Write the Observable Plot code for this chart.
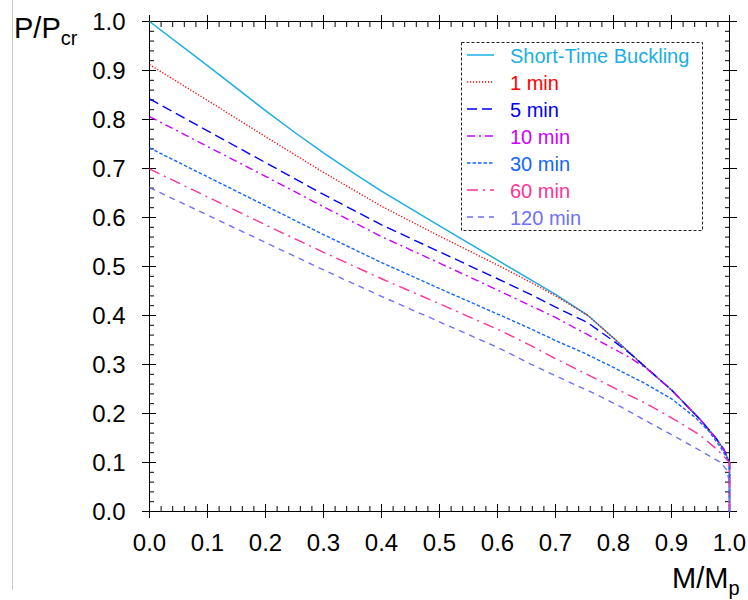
<!DOCTYPE html>
<html>
<head>
<meta charset="utf-8">
<script src="https://cdn.jsdelivr.net/npm/d3@7"></script>
<script src="https://cdn.jsdelivr.net/npm/@observablehq/plot@0.6"></script>
<style>
  html, body { margin: 0; padding: 0; background: #fff; }
  #wrap { position: relative; width: 748px; height: 600px; font-family: "Liberation Sans", Arial, sans-serif; }
  #wrap svg.overlay { position: absolute; left: 0; top: 0; pointer-events: none; }
</style>
</head>
<body>
<div id="wrap"></div>
<script>
// ---------- data ----------
const seriesNames = ["Short-Time Buckling", "1 min", "5 min", "10 min", "30 min", "60 min", "120 min"];
const seriesColors = ["#1aaee6", "#ff0000", "#0000ff", "#cc00ff", "#1166ff", "#ff3399", "#7070ff"];
const seriesDash = [null, "1.2,1.8", "10,5", "8,4,2,4", "3.5,2", "11,5,2,5", "6,5"];

const mShort = [0, 0.1, 0.2, 0.25, 0.3, 0.35, 0.4, 0.5, 0.6, 0.7, 0.756, 0.8, 0.85, 0.9, 0.95, 0.975, 0.99, 1.0, 1.0];
const pShort = [1.0, 0.910, 0.818, 0.774, 0.732, 0.692, 0.654, 0.583, 0.513, 0.443, 0.40, 0.354, 0.300, 0.248, 0.187, 0.152, 0.127, 0.1, 0];

const m1 = [0, 0.1, 0.2, 0.3, 0.4, 0.5, 0.6, 0.657, 0.7, 0.756, 0.8, 0.85, 0.9, 0.95, 0.975, 0.99, 1.0, 1.0];
const p1 = [0.912, 0.839, 0.765, 0.692, 0.623, 0.562, 0.503, 0.468, 0.440, 0.40, 0.354, 0.300, 0.248, 0.187, 0.152, 0.127, 0.1, 0];

const m5 = [0, 0.1, 0.2, 0.3, 0.4, 0.5, 0.6, 0.657, 0.7, 0.756, 0.8, 0.83, 0.85, 0.9, 0.95, 0.975, 0.99, 1.0, 1.0];
const p5 = [0.842, 0.777, 0.712, 0.647, 0.585, 0.530, 0.475, 0.443, 0.417, 0.385, 0.348, 0.321, 0.300, 0.248, 0.187, 0.152, 0.127, 0.1, 0];

const m10 = [0, 0.1, 0.2, 0.3, 0.4, 0.5, 0.6, 0.657, 0.7, 0.76, 0.8, 0.83, 0.86, 0.9, 0.95, 0.975, 0.99, 1.0, 1.0];
const p10 = [0.806, 0.745, 0.684, 0.622, 0.561, 0.507, 0.452, 0.420, 0.396, 0.358, 0.332, 0.313, 0.289, 0.248, 0.187, 0.152, 0.127, 0.1, 0];

const m30 = [0, 0.1, 0.2, 0.3, 0.4, 0.5, 0.6, 0.657, 0.7, 0.75, 0.8, 0.85, 0.9, 0.94, 0.965, 0.985, 1.0, 1.0];
const p30 = [0.742, 0.683, 0.624, 0.565, 0.508, 0.455, 0.403, 0.373, 0.349, 0.323, 0.294, 0.264, 0.230, 0.193, 0.163, 0.130, 0.1, 0];

const m60 = [0, 0.1, 0.2, 0.3, 0.4, 0.5, 0.6, 0.657, 0.7, 0.8, 0.847, 0.881, 0.915, 0.95, 0.979, 1.0, 1.0];
const p60 = [0.699, 0.642, 0.585, 0.529, 0.475, 0.424, 0.372, 0.339, 0.312, 0.253, 0.226, 0.204, 0.181, 0.155, 0.126, 0.1, 0];

const m120 = [0, 0.1, 0.2, 0.3, 0.4, 0.5, 0.6, 0.657, 0.7, 0.772, 0.812, 0.847, 0.881, 0.915, 0.95, 0.985, 0.995, 1.0, 1.0];
const p120 = [0.661, 0.605, 0.549, 0.493, 0.439, 0.387, 0.335, 0.301, 0.277, 0.238, 0.214, 0.191, 0.169, 0.147, 0.124, 0.100, 0.085, 0.06, 0];

const seriesM = [mShort, m1, m5, m10, m30, m60, m120];
const seriesP = [pShort, p1, p5, p10, p30, p60, p120];

const ticksMajor = [0, 0.1, 0.2, 0.3, 0.4, 0.5, 0.6, 0.7, 0.8, 0.9, 1.0];
const tickLabels = ["0.0", "0.1", "0.2", "0.3", "0.4", "0.5", "0.6", "0.7", "0.8", "0.9", "1.0"];
const ticksMinor = d3.range(1, 50).filter(i => i % 5 !== 0).map(i => i / 50);

// ---------- build table ----------
const rows = [];
seriesNames.forEach((name, s) => {
  seriesM[s].forEach((m, i) => rows.push({series: name, m, p: seriesP[s][i], order: i}));
});

const fmt = d => tickLabels[Math.round(d * 10)];
const ink = "#000";

function tickSet(axis, anchor) {
  const common = {anchor, fill: "none", label: null, stroke: ink, strokeWidth: 1};
  return [
    axis({...common, ticks: ticksMajor, tickSize: 7}),
    axis({...common, ticks: ticksMajor, tickSize: -7}),
    axis({...common, ticks: ticksMinor, tickSize: -5})
  ];
}

const lineMarks = seriesNames.map((name, s) =>
  Plot.line(rows.filter(r => r.series === name), {
    x: "m", y: "p",
    stroke: seriesColors[s],
    strokeWidth: s === 0 ? 1.5 : 1.4,
    strokeDasharray: seriesDash[s] ?? undefined,
    strokeLinecap: "butt",
    curve: "linear"
  })
);

const chart = Plot.plot({
  width: 748,
  height: 600,
  marginTop: 21,
  marginRight: 19,
  marginBottom: 89,
  marginLeft: 149,
  style: {fontFamily: '"Liberation Sans", Arial, sans-serif', fontSize: "24px", color: ink, background: "#fff"},
  x: {domain: [0, 1]},
  y: {domain: [0, 1]},
  marks: [
    Plot.frame({stroke: ink, strokeWidth: 1}),
    ...tickSet(Plot.axisX, "bottom"),
    ...tickSet(Plot.axisX, "top"),
    ...tickSet(Plot.axisY, "left"),
    ...tickSet(Plot.axisY, "right"),
    Plot.axisX({anchor: "bottom", ticks: ticksMajor, tickSize: 0, tickPadding: 22, tickFormat: fmt, label: null, fontSize: 24, fill: ink}),
    Plot.axisY({anchor: "left", ticks: ticksMajor, tickSize: 0, tickPadding: 24, tickFormat: fmt, label: null, fontSize: 24, fill: ink, dy: 1}),
    ...lineMarks
  ]
});

const wrap = document.getElementById("wrap");
wrap.appendChild(chart);

// ---------- overlay: axis titles, legend ----------
const ov = d3.select(wrap).append("svg")
  .attr("class", "overlay")
  .attr("width", 748).attr("height", 600)
  .style("font-family", '"Liberation Sans", Arial, sans-serif');

ov.append("line").attr("x1", 12.5).attr("x2", 12.5).attr("y1", 0).attr("y2", 590)
  .attr("stroke", "#c8c8c8").attr("stroke-width", 1);

const yT = ov.append("text").attr("x", 14).attr("y", 38).attr("font-size", 29).attr("fill", ink);
yT.append("tspan").text("P/P");
yT.append("tspan").attr("font-size", 20).attr("dy", 7).text("cr");

const xT = ov.append("text").attr("x", 672).attr("y", 588).attr("font-size", 29).attr("fill", ink);
xT.append("tspan").text("M/M");
xT.append("tspan").attr("font-size", 20).attr("dy", 7).text("p");

// legend box
ov.append("rect").attr("x", 461.5).attr("y", 42.5).attr("width", 241).attr("height", 188)
  .attr("fill", "#fff").attr("stroke", "#222").attr("stroke-width", 1).attr("stroke-dasharray", "3,2");

seriesNames.forEach((name, s) => {
  const cy = 55 + 27 * s;
  ov.append("line").attr("x1", 467).attr("x2", 494).attr("y1", cy).attr("y2", cy)
    .attr("stroke", seriesColors[s]).attr("stroke-width", s === 0 ? 1.5 : 1.4)
    .attr("stroke-dasharray", seriesDash[s]);
  ov.append("text").attr("x", 510).attr("y", cy + 7.5).attr("font-size", 20)
    .attr("fill", seriesColors[s]).text(name);
});
</script>
</body>
</html>
